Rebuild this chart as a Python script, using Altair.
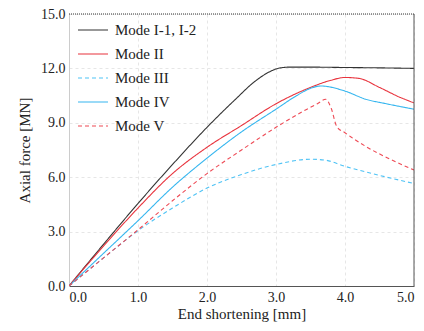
import altair as alt
import pandas as pd

modes = ["Mode I-1, I-2", "Mode II", "Mode III", "Mode IV", "Mode V"]
colors = ["#333333", "#e8333d", "#4fc3f5", "#36b6ef", "#ee4a55"]
dashes = [[1, 0], [1, 0], [4, 3], [1, 0], [4, 3]]

x_m1 = [0, 0.5, 1.0, 1.5, 2.0, 2.4, 2.7, 2.9, 3.05, 3.2, 3.5, 4.0, 4.5, 5.0]
y_m1 = [0, 2.3, 4.55, 6.7, 8.75, 10.25, 11.3, 11.8, 12.02, 12.07, 12.07, 12.05, 12.03, 12.0]

x_m2 = [0, 0.5, 1.0, 1.5, 2.0, 2.5, 3.0, 3.5, 3.8, 4.0, 4.2, 4.5, 4.8, 5.0]
y_m2 = [0, 2.2, 4.3, 6.2, 7.65, 8.85, 10.05, 10.95, 11.35, 11.5, 11.45, 10.95, 10.4, 10.1]

x_m3 = [0, 0.5, 1.0, 1.5, 2.0, 2.5, 3.0, 3.5, 3.7, 4.0, 4.5, 5.0]
y_m3 = [0, 1.55, 3.05, 4.3, 5.4, 6.15, 6.7, 6.99, 6.95, 6.6, 6.1, 5.65]

x_m4 = [0, 0.5, 1.0, 1.5, 2.0, 2.5, 3.0, 3.3, 3.5, 3.65, 4.0, 4.3, 4.6, 5.0]
y_m4 = [0, 1.8, 3.6, 5.45, 7.05, 8.5, 9.75, 10.5, 10.9, 11.03, 10.75, 10.3, 10.05, 9.75]

x_m5 = [0, 0.5, 1.0, 1.5, 2.0, 2.5, 3.0, 3.4, 3.6, 3.72, 3.8, 3.88, 4.0, 4.3, 4.65, 5.0]
y_m5 = [0, 1.55, 3.1, 4.7, 6.2, 7.5, 8.75, 9.65, 10.05, 10.3, 9.8, 8.8, 8.45, 7.7, 7.0, 6.4]

xs = [x_m1, x_m2, x_m3, x_m4, x_m5]
ys = [y_m1, y_m2, y_m3, y_m4, y_m5]

rows = []
for i, (m, xx, yy) in enumerate(zip(modes, xs, ys)):
    for a, b in zip(xx, yy):
        rows.append({"mode": m, "order": i, "x": a, "y": b})
df = pd.DataFrame(rows)

x_ticks = [0, 1, 2, 3, 4, 5]
y_ticks = [0, 3, 6, 9, 12, 15]
FONT = "Liberation Serif"

xscale = alt.Scale(domain=[0, 5], nice=False)
yscale = alt.Scale(domain=[0, 15], nice=False)

lines = alt.Chart(df).mark_line(strokeWidth=1.1, interpolate="monotone", clip=True).encode(
    x=alt.X("x:Q", scale=xscale,
            axis=alt.Axis(title="End shortening [mm]", values=x_ticks, format=".1f",
                          domainColor="#555555", titlePadding=2)),
    y=alt.Y("y:Q", scale=yscale,
            axis=alt.Axis(title="Axial force [MN]", values=y_ticks, format=".1f",
                          domainColor="#cccccc", titlePadding=8)),
    color=alt.Color("mode:N", scale=alt.Scale(domain=modes, range=colors),
                    legend=alt.Legend(title=None)),
    strokeDash=alt.StrokeDash("mode:N", scale=alt.Scale(domain=modes, range=dashes),
                              legend=alt.Legend(title=None)),
    detail="mode:N",
    order="order:Q",
)

top_rule = alt.Chart(pd.DataFrame({"y": [15]})).mark_rule(
    color="#333333", strokeDash=[1, 1], strokeWidth=1
).encode(y=alt.Y("y:Q", scale=yscale))

right_rule = alt.Chart(pd.DataFrame({"x": [5]})).mark_rule(
    color="#555555", strokeWidth=1
).encode(x=alt.X("x:Q", scale=xscale))

chart = alt.layer(lines, top_rule, right_rule).properties(
    width=345, height=272,
    autosize=alt.AutoSizeParams(type="none"),
    padding={"left": 69, "top": 14, "right": 10, "bottom": 45},
).configure(font=FONT).configure_view(stroke=None).configure_axis(
    labelFont=FONT, titleFont=FONT, labelFontSize=14, titleFontSize=15,
    labelColor="#222222", titleColor="#222222", titleFontWeight="normal",
    gridDash=[3, 3], gridColor="#e6e6e6", tickSize=0, labelPadding=4,
).configure_legend(
    orient="none", legendX=8, legendY=0,
    symbolType="stroke", symbolSize=900,
    symbolStrokeWidth=1.2, labelFontSize=15, labelColor="#222222",
    labelFont=FONT, rowPadding=-13, labelOffset=6,
)

chart.save("out.html", embed_options={"renderer": "svg", "actions": False})
